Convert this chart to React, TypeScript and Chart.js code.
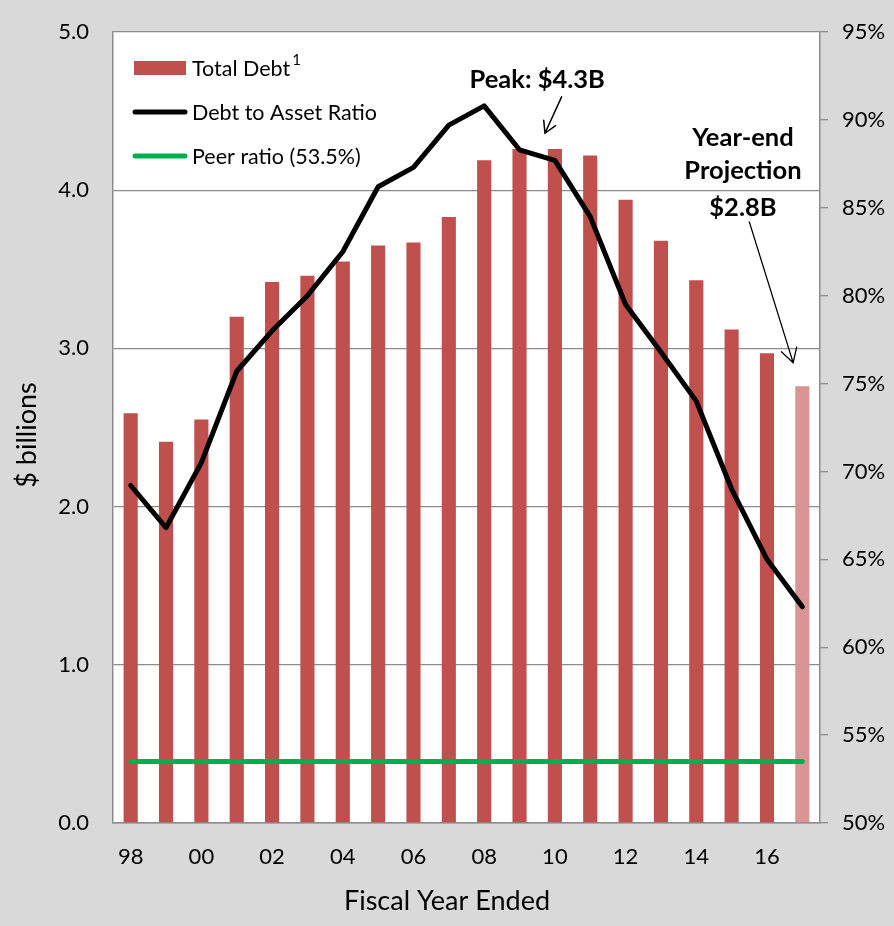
import React, { useEffect, useRef } from "react";
import { Chart, registerables } from "chart.js";
Chart.register(...registerables);

const years = ["98", "99", "00", "01", "02", "03", "04", "05", "06", "07", "08", "09", "10", "11", "12", "13", "14", "15", "16", "17"];
const totalDebt = [2.59, 2.41, 2.55, 3.2, 3.42, 3.46, 3.55, 3.65, 3.67, 3.83, 4.19, 4.26, 4.26, 4.22, 3.94, 3.68, 3.43, 3.12, 2.97, 2.76];
const debtToAssetRatio = [69.2, 66.8, 70.5, 75.7, 78.0, 80.0, 82.5, 86.2, 87.3, 89.7, 90.8, 88.3, 87.7, 84.5, 79.5, 76.8, 74.0, 69.0, 65.0, 62.3];
const peerRatioValue = 53.5;
const peerRatio = years.map(() => peerRatioValue);
const projectedIndex = 19;

const FONT = "Lato, 'Open Sans', sans-serif";
const GRID = "#8c8c8c";
const BAR = "#c0504d";
const BAR_PROJ = "#d99594";

function arrow(ctx: CanvasRenderingContext2D, x1: number, y1: number, x2: number, y2: number, lw: number, head: number) {
  ctx.save();
  ctx.strokeStyle = "#000";
  ctx.lineWidth = lw;
  ctx.lineCap = "round";
  ctx.beginPath();
  ctx.moveTo(x1, y1);
  ctx.lineTo(x2, y2);
  const a = Math.atan2(y2 - y1, x2 - x1);
  const s = Math.PI / 6;
  ctx.moveTo(x2 - head * Math.cos(a - s), y2 - head * Math.sin(a - s));
  ctx.lineTo(x2, y2);
  ctx.lineTo(x2 - head * Math.cos(a + s), y2 - head * Math.sin(a + s));
  ctx.stroke();
  ctx.restore();
}

const decorPlugin = {
  id: "decor",
  beforeDraw(chart: any) {
    const { ctx, chartArea } = chart;
    ctx.save();
    ctx.fillStyle = "#ffffff";
    ctx.fillRect(chartArea.left, chartArea.top, chartArea.right - chartArea.left, chartArea.bottom - chartArea.top);
    ctx.restore();
  },
  afterDraw(chart: any) {
    const { ctx, chartArea } = chart;
    const x = chart.scales.x;
    const y = chart.scales.y;
    ctx.save();
    // Legend
    const lx = chartArea.left + 21;
    const sw = 52;
    const tx = lx + sw + 6;
    const rows = [chartArea.top + 36, chartArea.top + 80, chartArea.top + 124];
    ctx.fillStyle = BAR;
    ctx.fillRect(lx, rows[0] - 7, sw, 14);
    ctx.lineCap = "round";
    ctx.lineWidth = 5;
    ctx.strokeStyle = "#000";
    ctx.beginPath();
    ctx.moveTo(lx + 1, rows[1]);
    ctx.lineTo(lx + sw - 1, rows[1]);
    ctx.stroke();
    ctx.strokeStyle = "#00b050";
    ctx.beginPath();
    ctx.moveTo(lx + 1, rows[2]);
    ctx.lineTo(lx + sw - 1, rows[2]);
    ctx.stroke();
    ctx.fillStyle = "#000";
    ctx.textBaseline = "middle";
    ctx.textAlign = "left";
    ctx.font = `21.5px ${FONT}`;
    ctx.fillText("Total Debt", tx, rows[0] + 1);
    const w = ctx.measureText("Total Debt").width;
    ctx.font = `15px ${FONT}`;
    ctx.fillText("1", tx + w + 2, rows[0] - 8);
    ctx.font = `21.5px ${FONT}`;
    ctx.fillText("Debt to Asset Ratio", tx, rows[1] + 1);
    ctx.fillText("Peer ratio (53.5%)", tx, rows[2] + 1);

    // Annotations
    const px = (i: number) => x.getPixelForValue(0) + (x.getPixelForValue(1) - x.getPixelForValue(0)) * i;
    ctx.font = `bold 25.5px ${FONT}`;
    ctx.textAlign = "center";
    ctx.fillText("Peak: $4.3B", px(11.5), y.getPixelForValue(4.7));
    arrow(ctx, px(12.19), y.getPixelForValue(4.59), px(11.72), y.getPixelForValue(4.36), 1.5, 13);

    ctx.fillText("Year-end", px(17.32), y.getPixelForValue(4.33));
    ctx.fillText("Projection", px(17.32), y.getPixelForValue(4.12));
    ctx.fillText("$2.8B", px(17.32), y.getPixelForValue(3.89));
    arrow(ctx, px(17.5), y.getPixelForValue(3.8), px(18.74), y.getPixelForValue(2.91), 1.3, 16);

    // Axis titles
    ctx.font = `27px ${FONT}`;
    ctx.textAlign = "center";
    ctx.textBaseline = "middle";
    ctx.fillText("Fiscal Year Ended", 447, 901);
    ctx.translate(27, 435);
    ctx.rotate(-Math.PI / 2);
    ctx.fillText("$ billions", 0, 0);
    ctx.restore();
  },
};

export default function App() {
  const ref = useRef<HTMLCanvasElement>(null);
  useEffect(() => {
    if (!ref.current) return;
    const chart = new Chart(ref.current, {
      type: "bar",
      data: {
        labels: years,
        datasets: [
          {
            type: "line",
            label: "Debt to Asset Ratio",
            data: debtToAssetRatio,
            yAxisID: "y1",
            borderColor: "#000",
            borderWidth: 5,
            pointRadius: 0,
            tension: 0,
            borderCapStyle: "round",
            borderJoinStyle: "round",
            order: 1,
          } as any,
          {
            type: "line",
            label: "Peer ratio (53.5%)",
            data: peerRatio,
            yAxisID: "y1",
            borderColor: "#00b050",
            borderWidth: 5,
            pointRadius: 0,
            borderCapStyle: "round",
            order: 2,
          } as any,
          {
            type: "bar",
            label: "Total Debt",
            data: totalDebt,
            yAxisID: "y",
            backgroundColor: totalDebt.map((_, i) => (i === projectedIndex ? BAR_PROJ : BAR)),
            barPercentage: 0.4,
            categoryPercentage: 1.0,
            order: 3,
          },
        ],
      },
      options: {
        responsive: false,
        animation: false,
        devicePixelRatio: 1,
        layout: { padding: { top: 32, left: 0, right: 0, bottom: 0 }, autoPadding: false },
        plugins: { legend: { display: false }, tooltip: { enabled: false } },
        scales: {
          x: {
            grid: { display: false, drawTicks: false },
            border: { color: GRID, width: 1.5 },
            ticks: {
              autoSkip: false,
              maxRotation: 0,
              padding: 21,
              color: "#000",
              font: { family: FONT, size: 22 },
              callback: (_v: any, i: number) => (i % 2 === 0 ? years[i] : ""),
            },
            afterFit: (s: any) => {
              s.height = 103;
              s.paddingLeft = 0;
              s.paddingRight = 0;
            },
          },
          y: {
            position: "left",
            min: 0,
            max: 5,
            grid: { color: GRID, lineWidth: 1.3, drawTicks: false },
            border: { color: GRID, width: 1.5 },
            ticks: {
              stepSize: 1,
              padding: 24,
              color: "#000",
              font: { family: FONT, size: 22 },
              callback: (v: any) => Number(v).toFixed(1),
            },
            afterFit: (s: any) => {
              s.width = 113;
              s.paddingTop = 0;
              s.paddingBottom = 0;
            },
          },
          y1: {
            position: "right",
            min: 50,
            max: 95,
            grid: { drawOnChartArea: false, color: GRID, lineWidth: 1.3, tickLength: 8 },
            border: { color: GRID, width: 1.5 },
            ticks: {
              stepSize: 5,
              padding: 14,
              color: "#000",
              font: { family: FONT, size: 22 },
              callback: (v: any) => `${v}%`,
            },
            afterFit: (s: any) => {
              s.width = 74;
              s.paddingTop = 0;
              s.paddingBottom = 0;
            },
          },
        },
      },
      plugins: [decorPlugin],
    });
    return () => chart.destroy();
  }, []);
  return (
    <div style={{ position: "absolute", left: 0, top: 0, width: 894, height: 926, background: "#d9d9d9" }}>
      <canvas ref={ref} width={894} height={926} />
    </div>
  );
}
